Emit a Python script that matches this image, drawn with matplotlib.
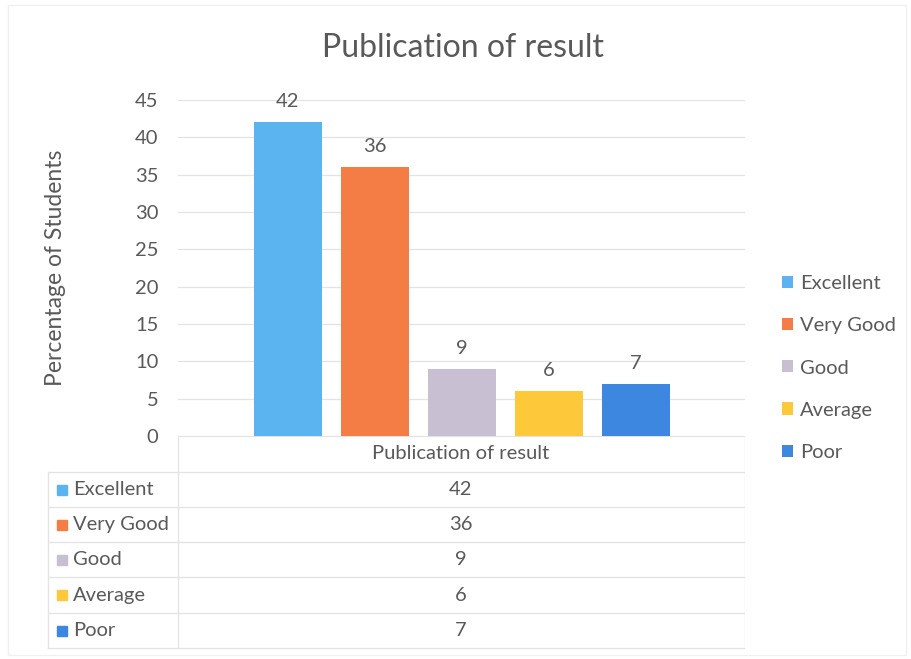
import matplotlib
matplotlib.use("Agg")
import matplotlib.pyplot as plt
from matplotlib.patches import Rectangle
import numpy as np

categories = ["Excellent", "Very Good", "Good", "Average", "Poor"]
values = [42, 36, 9, 6, 7]
colors = ["#5bb4ef", "#f47c45", "#c8bfd2", "#fdc93a", "#3d87e0"]
group_label = "Publication of result"
title = "Publication of result"
ylabel = "Percentage of Students"
yticks = [0, 5, 10, 15, 20, 25, 30, 35, 40, 45]

TEXT = "#595959"
GRID = "#e3e3e3"
FS = 14.5
plt.rcParams["font.family"] = ["Lato", "DejaVu Sans"]

W, H = 911, 659
fig = plt.figure(figsize=(W / 100, H / 100), dpi=100)


def box(x0, y0, x1, y1):
    # pixel box (top-left origin) -> figure fraction rect
    return [x0 / W, 1 - y1 / H, (x1 - x0) / W, (y1 - y0) / H]


# faint outer chart border
fig.patches.append(Rectangle((8 / W, 1 - 655 / H), (906 - 8) / W, (655 - 5) / H,
                             transform=fig.transFigure, fill=False,
                             edgecolor="#f0f0f0", lw=1))

# main bar axes
ax = fig.add_axes(box(178, 100, 745, 436))
n = len(values)
step = 87 / 567
offsets = (np.arange(n) - (n - 1) / 2) * step
bars = ax.bar(offsets, values, width=68 / 567, color=colors, label=categories, zorder=3)
for b, v in zip(bars, values):
    ax.text(b.get_x() + b.get_width() / 2, v + 1.6, f"{v}", ha="center", va="bottom",
            fontsize=FS, color=TEXT)
ax.set_xlim(-0.5, 0.5)
ax.set_ylim(0, 45)
ax.set_yticks(yticks)
ax.set_xticks([])
ax.tick_params(axis="y", length=0, labelsize=FS, labelcolor=TEXT, pad=14)
for s in ax.spines.values():
    s.set_visible(False)
ax.grid(axis="y", color=GRID, lw=0.9, zorder=0)
fig.text(55 / W, 1 - 268 / H, ylabel, rotation=90, ha="center", va="center",
         fontsize=16.5, color=TEXT)
fig.text(463 / W, 1 - 48 / H, title, ha="center", va="center", fontsize=23, color=TEXT)

# legend
leg = ax.legend(handles=list(bars), labels=categories, loc="center left",
                bbox_to_anchor=(764 / W, 1 - 368 / H), bbox_transform=fig.transFigure,
                frameon=False, fontsize=FS, handlelength=0.55, handleheight=0.55,
                handletextpad=0.35, labelspacing=1.25, labelcolor=TEXT)

# data table
tax = fig.add_axes(box(40, 436, 745, 652))
tax.set_xlim(40, 745)
tax.set_ylim(652, 436)
tax.axis("off")
line_kw = dict(color=GRID, lw=0.9)
tax.plot([178, 745], [436, 436], **line_kw)
rows_y = [472, 507, 542, 577, 613, 648]
for y in rows_y:
    tax.plot([48, 745], [y, y], **line_kw)
tax.plot([178, 178], [436, 648], **line_kw)
tax.plot([745, 745], [436, 648], **line_kw)
tax.plot([48, 48], [472, 648], **line_kw)
tax.text(461, 453, group_label, ha="center", va="center", fontsize=FS, color=TEXT)
for i, (cat, v, c) in enumerate(zip(categories, values, colors)):
    yc = (rows_y[i] + rows_y[i + 1]) / 2
    tax.add_patch(Rectangle((57, yc - 5), 10, 10, color=c))
    tax.text(73, yc, cat, ha="left", va="center", fontsize=FS, color=TEXT)
    tax.text(461, yc, f"{v}", ha="center", va="center", fontsize=FS, color=TEXT)

fig.savefig("out.png", dpi=100, facecolor="white")
